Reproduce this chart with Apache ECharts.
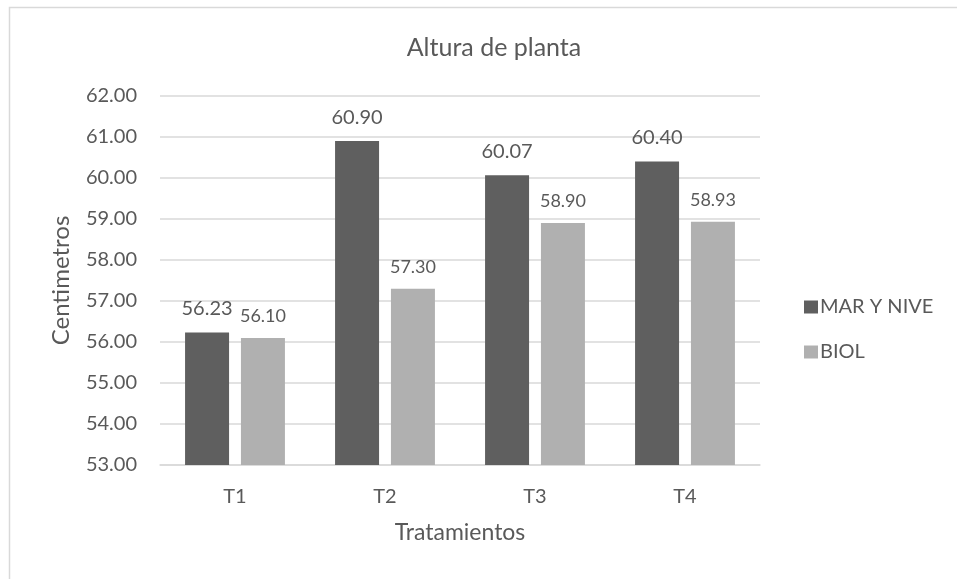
<!DOCTYPE html>
<html>
<head>
<meta charset="utf-8">
<script src="https://cdn.jsdelivr.net/npm/echarts@6/dist/echarts.min.js"></script>
<style>
  html, body { margin: 0; padding: 0; background: #fff; }
  #chart { width: 957px; height: 579px; }
</style>
</head>
<body>
<div id="chart"></div>
<script>
// Plant height per treatment, two sites
const categories = ['T1', 'T2', 'T3', 'T4'];
const marYNive = [56.23, 60.90, 60.07, 60.40];
const biol = [56.10, 57.30, 58.90, 58.93];
const seriesNames = ['MAR Y NIVE', 'BIOL'];

const FONT = 'Lato, "Open Sans", sans-serif';
const TEXT = '#595959';

const chart = echarts.init(document.getElementById('chart'), null, { renderer: 'canvas' });

chart.setOption({
  backgroundColor: '#ffffff',
  animation: false,
  graphic: [{
    type: 'rect',
    shape: { x: 9.5, y: 7.5, width: 1000, height: 700 },
    style: { fill: 'none', stroke: '#d9d9d9', lineWidth: 1.5 },
    silent: true
  }],
  title: {
    text: 'Altura de planta',
    left: 489,
    top: 30,
    textAlign: 'center',
    textStyle: { fontFamily: FONT, fontSize: 25, fontWeight: 'normal', color: TEXT }
  },
  legend: {
    orient: 'vertical',
    left: 799,
    top: 292,
    itemWidth: 14,
    itemHeight: 13,
    itemGap: 25,
    icon: 'rect',
    data: seriesNames,
    textStyle: { fontFamily: FONT, fontSize: 20, lineHeight: 20, color: TEXT, padding: [0, 0, 0, -3] }
  },
  grid: { left: 160, top: 96, width: 600, height: 369, containLabel: false },
  xAxis: {
    type: 'category',
    data: categories,
    name: 'Tratamientos',
    nameLocation: 'middle',
    nameGap: 56,
    nameTextStyle: { fontFamily: FONT, fontSize: 23, color: TEXT },
    axisLine: { lineStyle: { color: '#d9d9d9', width: 1.5 } },
    axisTick: { show: false },
    axisLabel: { fontFamily: FONT, fontSize: 20, color: TEXT, margin: 22 }
  },
  yAxis: {
    type: 'value',
    min: 53,
    max: 62,
    interval: 1,
    name: 'Centimetros',
    nameLocation: 'middle',
    nameGap: 87,
    nameTextStyle: { fontFamily: FONT, fontSize: 24, color: TEXT },
    axisLine: { show: false },
    axisTick: { show: false },
    splitLine: { lineStyle: { color: '#d9d9d9', width: 1.5 } },
    axisLabel: {
      fontFamily: FONT, fontSize: 20, color: TEXT, margin: 23,
      formatter: v => v.toFixed(2)
    }
  },
  series: [
    {
      name: seriesNames[0],
      type: 'bar',
      data: marYNive,
      barWidth: 44,
      barGap: '27%',
      itemStyle: { color: '#5f5f5f' },
      label: {
        show: true, position: 'top', distance: 14,
        fontFamily: FONT, fontSize: 20, color: TEXT,
        formatter: p => p.value.toFixed(2)
      }
    },
    {
      name: seriesNames[1],
      type: 'bar',
      data: biol,
      barWidth: 44,
      itemStyle: { color: '#b0b0b0' },
      label: {
        show: true, position: 'top', distance: 13,
        fontFamily: FONT, fontSize: 18, color: TEXT,
        formatter: p => p.value.toFixed(2)
      }
    }
  ]
});
</script>
</body>
</html>
